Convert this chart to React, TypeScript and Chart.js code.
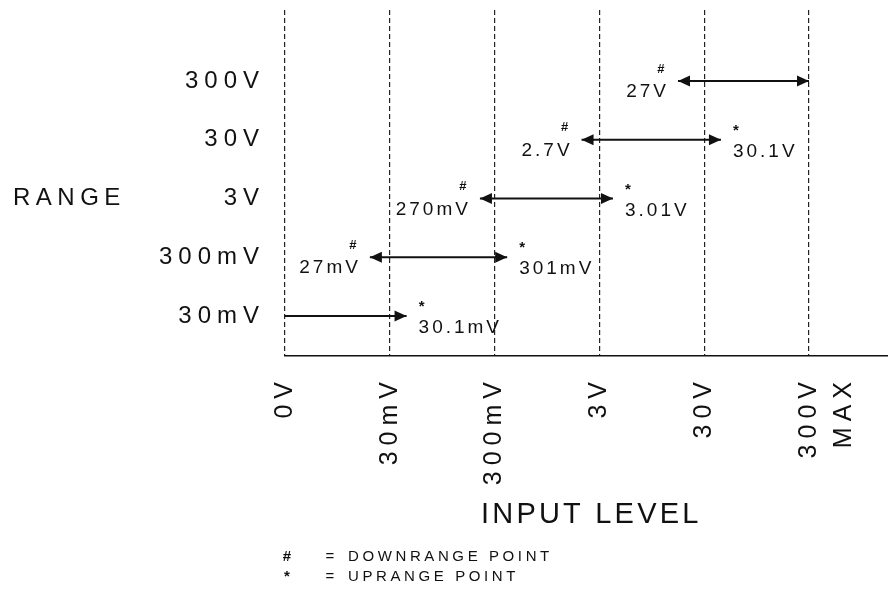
import React, { useEffect, useRef } from 'react';
import { Chart, registerables } from 'chart.js';

Chart.register(...registerables);

// ---- data ----
const rangeLabels: string[] = ['30mV', '300mV', '3V', '30V', '300V'];
const inputLevelLabels: (string | string[])[] = ['0V', '30mV', '300mV', '3V', '30V', ['300V', 'MAX']];
const downrangePos: number[] = [0, 0.81, 1.86, 2.83, 3.75];
const uprangePos: number[] = [1.16, 2.12, 3.13, 4.16, 5.0];
const downrangeLabels: (string | null)[] = [null, '27mV', '270mV', '2.7V', '27V'];
const uprangeLabels: (string | null)[] = ['30.1mV', '301mV', '3.01V', '30.1V', null];
const legendSymbols: string[] = ['#', '*'];
const legendTexts: string[] = ['DOWNRANGE POINT', 'UPRANGE POINT'];
const yAxisTitle = 'RANGE';
const xAxisTitle = 'INPUT LEVEL';

// ---- style ----
const FONT = "'Liberation Sans', Arial, sans-serif";
const INK = '#111111';
const TICK_SPACING = 6;
const W = 888;
const H = 593;

function drawText(
  ctx: CanvasRenderingContext2D,
  text: string,
  x: number,
  y: number,
  size: number,
  spacing: number,
  align: CanvasTextAlign,
  weight: string = 'normal'
) {
  ctx.save();
  ctx.font = `${weight} ${size}px ${FONT}`;
  (ctx as any).letterSpacing = `${spacing}px`;
  ctx.fillStyle = INK;
  ctx.textAlign = align;
  ctx.textBaseline = 'middle';
  let dx = 0;
  if (align === 'right') dx = spacing;
  else if (align === 'center') dx = spacing / 2;
  ctx.fillText(text, x + dx, y);
  ctx.restore();
}

function arrowHead(ctx: CanvasRenderingContext2D, x: number, y: number, dir: number) {
  const len = 12;
  const half = 5.5;
  ctx.save();
  ctx.fillStyle = INK;
  ctx.beginPath();
  ctx.moveTo(x, y);
  ctx.lineTo(x - dir * len, y - half);
  ctx.lineTo(x - dir * len, y + half);
  ctx.closePath();
  ctx.fill();
  ctx.restore();
}

const annotationPlugin = {
  id: 'rangeAnnotations',
  beforeLayout(chart: any) {
    chart.ctx.letterSpacing = `${TICK_SPACING}px`;
  },
  beforeDraw(chart: any) {
    const ctx = chart.ctx;
    ctx.save();
    ctx.fillStyle = '#ffffff';
    ctx.fillRect(0, 0, chart.width, chart.height);
    ctx.restore();
    ctx.letterSpacing = `${TICK_SPACING}px`;
  },
  afterDatasetsDraw(chart: any) {
    const ctx: CanvasRenderingContext2D = chart.ctx;
    const xs = chart.scales.x;
    const ys = chart.scales.y;
    rangeLabels.forEach((_, i) => {
      const y = ys.getPixelForValue(i + 1);
      const xl = xs.getPixelForValue(downrangePos[i]);
      const xr = xs.getPixelForValue(uprangePos[i]);
      arrowHead(ctx, xr, y, 1);
      const dl = downrangeLabels[i];
      if (dl) {
        arrowHead(ctx, xl, y, -1);
        drawText(ctx, dl, xl - 12, y + 11, 19, 3, 'right');
        drawText(ctx, '#', xl - 17, y - 12, 13, 0, 'center', 'bold');
      }
      const ul = uprangeLabels[i];
      if (ul) {
        drawText(ctx, ul, xr + 12, y + 12, 19, 3, 'left');
        drawText(ctx, '*', xr + 15, y - 9, 15, 0, 'center', 'bold');
      }
    });
  },
  afterDraw(chart: any) {
    const ctx: CanvasRenderingContext2D = chart.ctx;
    const ys = chart.scales.y;
    drawText(ctx, yAxisTitle, 13, ys.getPixelForValue(3), 24, 5.5, 'left');
    drawText(ctx, xAxisTitle, 481, 515, 29, 3.2, 'left');
    legendSymbols.forEach((s, i) => {
      const y = 557 + i * 20;
      drawText(ctx, s, 287, y, 15, 0, 'center', 'bold');
      drawText(ctx, '=', 330, y, 15, 0, 'center');
      drawText(ctx, legendTexts[i], 348, y, 15, 3.6, 'left');
    });
  },
};

export default function App() {
  const ref = useRef<HTMLCanvasElement | null>(null);

  useEffect(() => {
    if (!ref.current) return;
    const chart = new Chart(ref.current, {
      type: 'line',
      data: {
        datasets: rangeLabels.map((r, i) => ({
          label: r,
          data: [
            { x: downrangePos[i], y: i + 1 },
            { x: uprangePos[i], y: i + 1 },
          ],
          borderColor: INK,
          borderWidth: 1.8,
          pointRadius: 0,
          pointHoverRadius: 0,
          fill: false,
          tension: 0,
        })),
      },
      options: {
        responsive: false,
        animation: false,
        events: [],
        layout: { padding: { top: 10, right: 0, left: 0, bottom: 0 } },
        plugins: {
          legend: { display: false },
          tooltip: { enabled: false },
        },
        scales: {
          x: {
            type: 'linear',
            min: 0,
            max: 5.754,
            afterBuildTicks: (s: any) => {
              s.ticks = inputLevelLabels.map((_, i) => ({ value: i }));
            },
            afterFit: (s: any) => {
              s.height = H - 356;
              s.paddingLeft = 0;
              s.paddingRight = 0;
            },
            grid: { color: '#222222', lineWidth: 1.2, drawTicks: false },
            border: { display: true, color: INK, width: 1.6, dash: [5, 3] },
            ticks: {
              autoSkip: false,
              minRotation: 90,
              maxRotation: 90,
              padding: 20,
              color: INK,
              font: { family: FONT, size: 25, lineHeight: 1.4 },
              callback: (v: any) => inputLevelLabels[Math.round(Number(v))] as any,
            },
          },
          y: {
            type: 'linear',
            min: 0.319,
            max: 6.2085,
            afterBuildTicks: (s: any) => {
              s.ticks = rangeLabels.map((_, i) => ({ value: i + 1 }));
            },
            afterFit: (s: any) => {
              s.width = 285;
              s.paddingTop = 0;
              s.paddingBottom = 0;
            },
            grid: { display: false, drawTicks: false },
            border: { display: false },
            ticks: {
              padding: 20,
              color: INK,
              font: { family: FONT, size: 24 },
              callback: (v: any) => rangeLabels[Math.round(Number(v)) - 1],
            },
          },
        },
      },
      plugins: [annotationPlugin],
    } as any);
    return () => chart.destroy();
  }, []);

  return (
    <canvas
      ref={ref}
      width={W}
      height={H}
      style={{ position: 'fixed', left: 0, top: 0, width: W, height: H }}
    />
  );
}
